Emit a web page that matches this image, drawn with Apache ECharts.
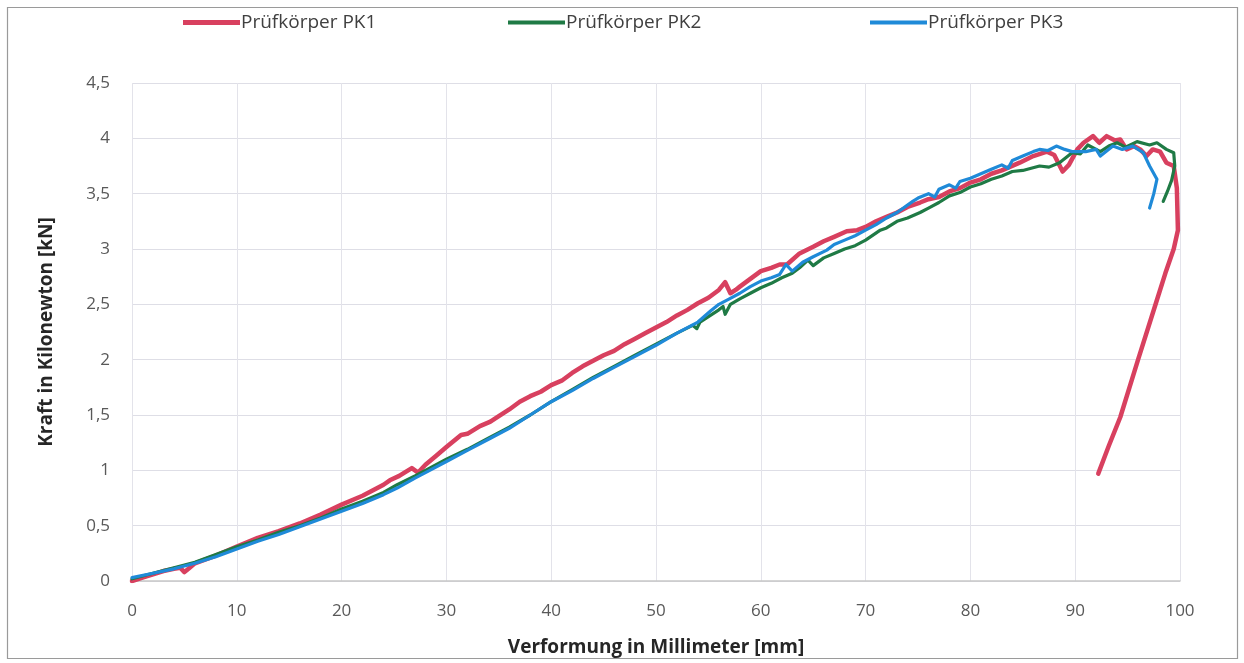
<!DOCTYPE html>
<html>
<head>
<meta charset="utf-8">
<script src="https://cdn.jsdelivr.net/npm/echarts@6/dist/echarts.min.js"></script>
<style>html,body{margin:0;padding:0;background:#fff;}#c{width:1244px;height:663px;}</style>
</head>
<body>
<div id="c"></div>
<script>
// Series names
const seriesNames = ['Prüfkörper PK1', 'Prüfkörper PK2', 'Prüfkörper PK3'];
// Axis ticks
const xTicks = [0, 10, 20, 30, 40, 50, 60, 70, 80, 90, 100];
const yTicks = [0, 0.5, 1, 1.5, 2, 2.5, 3, 3.5, 4, 4.5];

// PK1 [deformation mm, force kN]
const pk1 = [
  [0,0.00],[1,0.03],[2,0.06],[3,0.09],[4,0.11],[4.6,0.12],[5,0.08],[5.5,0.12],[6,0.16],[8,0.23],
  [10,0.31],[12,0.39],[14,0.45],[16,0.52],[18,0.60],[20,0.69],[22,0.77],[24,0.87],[24.6,0.91],[25.5,0.95],
  [26,0.98],[26.7,1.02],[27.3,0.98],[28,1.05],[29,1.13],[30,1.21],[31.4,1.32],[32,1.33],[33.2,1.40],[34.2,1.44],
  [35,1.49],[36,1.55],[37,1.62],[38,1.67],[39,1.71],[40,1.77],[41,1.81],[42,1.88],[43,1.94],[44,1.99],
  [45,2.04],[46,2.08],[47,2.14],[48,2.19],[49,2.24],[50,2.29],[51,2.34],[52,2.40],[53,2.45],[54,2.51],
  [55,2.56],[56,2.63],[56.6,2.70],[57.1,2.60],[57.6,2.63],[58,2.66],[59,2.73],[60,2.80],[61,2.83],[61.8,2.86],
  [62.5,2.86],[63.7,2.96],[65,3.02],[66,3.07],[67,3.11],[68.2,3.16],[69.2,3.17],[70,3.20],[71,3.25],[72,3.29],
  [73,3.33],[74,3.38],[75.2,3.42],[76,3.45],[77,3.47],[78,3.52],[79,3.55],[80,3.60],[81,3.63],[82,3.68],
  [83,3.71],[84.7,3.78],[86,3.84],[87.3,3.88],[88,3.85],[88.8,3.70],[89.4,3.76],[90.2,3.90],[90.8,3.96],[91.7,4.02],
  [92.3,3.96],[93,4.02],[93.8,3.98],[94.3,3.99],[94.9,3.90],[95.6,3.93],[96.2,3.90],[96.8,3.84],[97.4,3.90],[98.1,3.88],
  [98.7,3.78],[99.4,3.75],[99.7,3.55],[99.8,3.17],[99.4,3.00],[98.6,2.78],[97.7,2.51],[96,2.00],[94.3,1.48],[93.2,1.22],
  [92.2,0.97]
];

// PK2 [deformation mm, force kN]
const pk2 = [
  [0,0.02],[2,0.07],[4,0.12],[6,0.17],[8,0.24],[10,0.31],[12,0.37],[14,0.44],[16,0.50],[18,0.57],
  [20,0.65],[22,0.72],[24,0.80],[25.3,0.87],[27,0.95],[28,1.00],[30,1.10],[32,1.19],[34,1.29],[36,1.39],
  [38,1.50],[40,1.62],[42,1.73],[44,1.84],[46,1.94],[48,2.04],[50,2.14],[52,2.24],[53.5,2.31],[53.9,2.28],
  [54.2,2.34],[56,2.45],[56.4,2.48],[56.6,2.41],[57.1,2.50],[58,2.55],[59,2.60],[60,2.65],[61,2.69],[62,2.74],
  [63,2.78],[63.7,2.83],[64.5,2.90],[65,2.85],[66,2.92],[67,2.96],[68,3.00],[69,3.03],[70,3.08],[71.4,3.17],
  [72,3.19],[73,3.25],[74,3.28],[75.2,3.33],[76,3.37],[77,3.42],[78,3.48],[79,3.51],[80,3.56],[81,3.59],
  [82,3.63],[83,3.66],[84,3.70],[85,3.71],[86.6,3.75],[87.5,3.74],[88.5,3.78],[89.7,3.87],[90.5,3.86],[91.2,3.94],
  [92.4,3.88],[93.2,3.93],[94,3.96],[94.8,3.92],[95.9,3.97],[97.1,3.94],[97.8,3.96],[98.7,3.90],[99.4,3.87],[99.5,3.75],
  [99.2,3.62],[98.8,3.52],[98.4,3.43]
];

// PK3 [deformation mm, force kN]
const pk3 = [
  [0,0.03],[2,0.07],[4,0.11],[6,0.16],[8,0.22],[10,0.29],[12,0.36],[14,0.42],[16,0.49],[18,0.56],
  [20,0.63],[22,0.70],[24,0.78],[25.3,0.84],[27,0.93],[28,0.98],[30,1.08],[32,1.18],[34.2,1.29],[36,1.38],
  [38,1.50],[40,1.62],[42,1.72],[44,1.83],[46,1.93],[48,2.03],[50,2.13],[52,2.24],[54,2.34],[55.2,2.44],
  [56,2.50],[57,2.55],[58,2.60],[59,2.66],[60,2.71],[61,2.74],[61.8,2.77],[62.4,2.86],[63,2.80],[64,2.88],
  [65,2.93],[66.3,2.99],[67,3.04],[68,3.08],[69,3.12],[70,3.17],[71,3.22],[72,3.28],[73,3.33],[74.5,3.43],
  [75,3.46],[76,3.50],[76.6,3.47],[77,3.54],[78,3.58],[78.6,3.55],[79,3.61],[80,3.64],[81,3.68],[82,3.72],
  [83,3.76],[83.6,3.73],[84,3.80],[85,3.84],[86,3.88],[86.6,3.90],[87.4,3.89],[88.2,3.93],[89,3.90],[89.7,3.88],
  [91,3.88],[92,3.90],[92.4,3.84],[93.6,3.93],[94.5,3.90],[95.5,3.93],[96.5,3.87],[97.1,3.75],[97.8,3.63],[97.5,3.50],
  [97.1,3.37]
];

const colors = ['#d8405f', '#1f7a45', '#1f8ad8'];
const widths = [4.5, 3.2, 3.2];
const legendLefts = [183, 508, 870];
const datasets = [pk1, pk2, pk3];

const chart = echarts.init(document.getElementById('c'));
const fontFam = '"Open Sans", "Noto Sans", sans-serif';
chart.setOption({
  animation: false,
  backgroundColor: '#ffffff',
  graphic: [{
    type: 'rect', silent: true, z: -1,
    shape: { x: 7.5, y: 7.5, width: 1230, height: 651 },
    style: { fill: 'none', stroke: '#9a9a9a', lineWidth: 1.2 }
  }],
  legend: seriesNames.map((n, i) => ({
    top: 13,
    left: legendLefts[i],
    icon: 'rect',
    itemWidth: 57,
    itemHeight: i === 0 ? 5 : 4,
    padding: 0,
    textStyle: { fontSize: 19, color: '#404040', fontFamily: fontFam, padding: [0, 0, 0, -4] },
    data: [n]
  })),
  grid: { left: 132, right: 64, top: 83, bottom: 82, containLabel: false },
  xAxis: {
    type: 'value',
    min: xTicks[0], max: xTicks[xTicks.length - 1], interval: 10,
    name: 'Verformung in Millimeter [mm]',
    nameLocation: 'middle', nameGap: 57,
    nameTextStyle: { fontSize: 19, fontWeight: 'bold', color: '#262626', fontFamily: fontFam },
    axisLine: { show: true, lineStyle: { color: '#c8c8c8', width: 1.5 } },
    axisTick: { show: false },
    axisLabel: { fontSize: 17, color: '#595959', margin: 22, fontFamily: fontFam },
    splitLine: { show: true, lineStyle: { color: '#e3e3ea', width: 1 } }
  },
  yAxis: {
    type: 'value',
    min: yTicks[0], max: yTicks[yTicks.length - 1], interval: 0.5,
    name: 'Kraft in Kilonewton [kN]',
    nameLocation: 'middle', nameGap: 76,
    nameTextStyle: { fontSize: 19, fontWeight: 'bold', color: '#262626', fontFamily: fontFam },
    axisLine: { show: false },
    axisTick: { show: false },
    axisLabel: {
      fontSize: 17, color: '#595959', margin: 22, fontFamily: fontFam,
      formatter: v => String(v).replace('.', ',')
    },
    splitLine: { show: true, lineStyle: { color: '#dedee6', width: 1 } }
  },
  series: datasets.map((d, i) => ({
    name: seriesNames[i],
    type: 'line',
    data: d,
    symbol: 'none',
    smooth: false,
    z: 3 + i,
    lineStyle: { color: colors[i], width: widths[i], join: 'round', cap: 'round' },
    itemStyle: { color: colors[i] }
  }))
});
</script>
</body>
</html>
